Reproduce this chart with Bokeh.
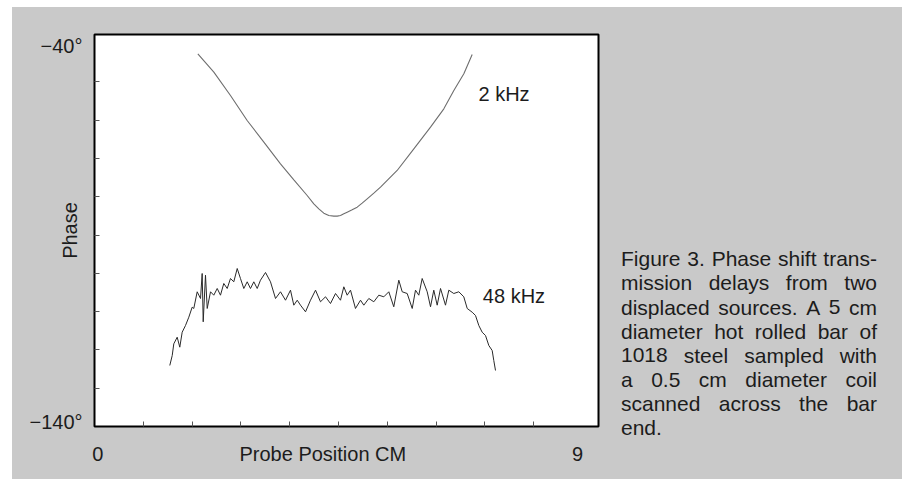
from bokeh.plotting import figure
from bokeh.models import Range1d, FixedTicker, Label, ColumnDataSource
from bokeh.layouts import row
from bokeh.core.properties import value
from bokeh.embed import file_html
from bokeh.resources import INLINE

# ---------------- data ----------------
khz2_pos = [2.118, 2.446, 2.787, 3.129, 3.471, 3.812, 4.086, 4.359, 4.495, 4.598,
            4.700, 4.803, 4.905, 4.974, 5.042, 5.110, 5.179, 5.281, 5.384, 5.486,
            5.589, 5.725, 5.862, 6.203, 6.545, 6.887, 7.160, 7.365, 7.570, 7.741]
khz2_phase = [-42.65, -47.44, -53.53, -60.06, -65.72, -71.38, -75.56, -79.66, -81.83, -83.14,
              -84.27, -84.88, -85.05, -85.05, -84.88, -84.44, -84.01, -83.40, -82.70, -81.66,
              -80.53, -79.05, -77.48, -73.12, -67.46, -61.80, -57.01, -52.23, -47.87, -42.82]

khz48_pos = [1.543, 1.593, 1.625, 1.695, 1.748, 1.797, 1.865, 1.933, 2.002, 2.035,
             2.105, 2.173, 2.207, 2.228, 2.275, 2.310, 2.378, 2.445, 2.515, 2.582,
             2.650, 2.720, 2.787, 2.855, 2.925, 2.992, 3.060, 3.130, 3.197, 3.265,
             3.335, 3.402, 3.505, 3.607, 3.710, 3.812, 3.915, 4.017, 4.085, 4.155,
             4.222, 4.325, 4.427, 4.530, 4.632, 4.735, 4.837, 4.940, 5.042, 5.110,
             5.179, 5.247, 5.349, 5.452, 5.520, 5.622, 5.725, 5.827, 5.930, 6.032,
             6.134, 6.237, 6.307, 6.409, 6.512, 6.579, 6.647, 6.716, 6.819, 6.887,
             6.954, 7.024, 7.092, 7.194, 7.262, 7.364, 7.467, 7.569, 7.639, 7.741,
             7.809, 7.877, 7.946, 8.014, 8.082, 8.151, 8.184, 8.219]
khz48_phase = [-124.06, -121.45, -118.40, -116.67, -119.28, -115.37, -113.62, -111.45, -108.83, -109.17,
               -104.81, -106.56, -100.03, -112.65, -100.48, -109.17, -104.81, -105.70, -103.95, -105.70,
               -102.64, -103.95, -101.34, -102.20, -98.73, -101.34, -103.95, -102.20, -103.95, -102.20,
               -103.95, -101.78, -99.77, -102.20, -106.56, -104.81, -107.01, -104.39, -108.31, -107.01,
               -108.31, -110.04, -107.01, -104.39, -107.42, -106.12, -107.87, -105.26, -107.01, -103.51,
               -105.70, -104.39, -109.17, -107.01, -108.31, -106.56, -107.42, -105.70, -106.12, -104.81,
               -108.73, -101.78, -104.81, -105.26, -109.17, -104.39, -105.70, -101.34, -104.81, -108.73,
               -104.39, -108.31, -103.95, -108.31, -104.39, -105.26, -104.81, -106.12, -109.17, -110.14,
               -111.00, -113.62, -115.37, -116.23, -118.84, -120.15, -122.76, -125.37]

x_label_ticks = [0.07, 4.68, 9.9]
x_label_texts = ["0", "Probe Position CM", "9"]
x_minor_ticks = [1, 2, 3, 4, 5, 6, 7, 8, 9]
y_label_ticks = [-138.9, -40.7]
y_label_texts = ["\u2212140\u00b0", "\u221240\u00b0"]
y_minor_ticks = [-130, -120, -110, -100, -90, -80, -70, -60, -50]

y_title = "Phase"
series_names = ["2 kHz", "48 kHz"]
series_label_pos = [(7.87, -53.27), (7.96, -106.04)]

caption_lines = [
    "Figure 3. Phase shift trans-",
    "mission delays from two",
    "displaced sources. A 5 cm",
    "diameter hot rolled bar of",
    "1018 steel sampled with",
    "a 0.5 cm diameter coil",
    "scanned across the bar",
    "end.",
]

# ---------------- layout / style ----------------
FONT = "Liberation Sans"
BG = "#c9c9c9"
TXT = "#1c1c1c"
H = 472
W1 = 594
W2 = 296

p = figure(width=W1, height=H, output_backend="svg", toolbar_location=None,
           x_range=Range1d(0.0, 10.33), y_range=Range1d(-140.0, -37.6),
           min_border_left=82, min_border_right=8, min_border_top=27, min_border_bottom=53)
p.border_fill_color = BG
p.background_fill_color = "white"
p.outline_line_color = "black"
p.outline_line_width = 2
p.grid.grid_line_color = None

p.xaxis.ticker = FixedTicker(ticks=x_label_ticks, minor_ticks=x_minor_ticks)
p.xaxis.major_label_overrides = dict(zip(x_label_ticks, x_label_texts))
p.yaxis.ticker = FixedTicker(ticks=y_label_ticks, minor_ticks=y_minor_ticks)
p.yaxis.major_label_overrides = dict(zip(y_label_ticks, y_label_texts))
for ax in (p.xaxis, p.yaxis):
    ax.axis_line_color = None
    ax.major_tick_line_color = None
    ax.major_tick_in = 0
    ax.major_tick_out = 0
    ax.minor_tick_in = 5
    ax.minor_tick_out = 0
    ax.minor_tick_line_color = "#555555"
    ax.minor_tick_line_width = 1
    ax.major_label_text_font = FONT
    ax.major_label_text_font_size = "20px"
    ax.major_label_text_color = TXT
p.xaxis.major_label_standoff = 16
p.yaxis.major_label_standoff = 12
p.yaxis.axis_label = y_title
p.yaxis.axis_label_text_font = FONT
p.yaxis.axis_label_text_font_size = "20px"
p.yaxis.axis_label_text_font_style = "normal"
p.yaxis.axis_label_text_color = TXT
p.yaxis.axis_label_standoff = -55

p.line(khz2_pos, khz2_phase, line_color="#6e6e6e", line_width=1.1)
p.line(khz48_pos, khz48_phase, line_color="#2a2a2a", line_width=1)

for name, (lx, ly) in zip(series_names, series_label_pos):
    p.add_layout(Label(x=lx, y=ly, text=name, text_font=FONT, text_font_size="20px",
                       text_color=TXT, text_align="left", text_baseline="alphabetic"))

# ---------------- caption panel (justified text) ----------------
CW = {' ': 278, '.': 278, '-': 333, 'A': 667, 'F': 611, 'P': 667,
      'a': 556, 'b': 556, 'c': 500, 'd': 556, 'e': 556, 'f': 278, 'g': 556, 'h': 556,
      'i': 222, 'j': 222, 'k': 500, 'l': 222, 'm': 833, 'n': 556, 'o': 556, 'p': 556,
      'q': 556, 'r': 333, 's': 500, 't': 278, 'u': 556, 'v': 500, 'w': 722, 'x': 500,
      'y': 500, 'z': 500}
CAP_SIZE = 21
def tw(s):
    return sum(CW.get(c, 556) for c in s) * CAP_SIZE / 1000.0

# caption panel uses page-pixel coordinates (its frame starts level with the main plot frame)
CAP_LEFT, CAP_WIDTH, CAP_TOP, CAP_STEP = 620.5, 256.0, 258.3, 24.14
wx, wy, wt = [], [], []
for i, line in enumerate(caption_lines):
    words = line.split(" ")
    yb = CAP_TOP + i * CAP_STEP
    if i == len(caption_lines) - 1 or len(words) == 1:
        gap = tw(" ")
    else:
        gap = (CAP_WIDTH - sum(tw(w) for w in words)) / (len(words) - 1)
    cx = CAP_LEFT
    for w in words:
        wx.append(cx)
        wy.append(yb)
        wt.append(w)
        cx += tw(w) + gap

p2 = figure(frame_width=W2, frame_height=H, output_backend="svg", toolbar_location=None,
            x_range=Range1d(606, 902), y_range=Range1d(34 + H, 34),
            x_axis_location=None, y_axis_location=None, min_border=0)
p2.border_fill_color = BG
p2.background_fill_color = BG
p2.background_fill_alpha = 0
p2.outline_line_color = None
p2.grid.grid_line_color = None
p2.text(x="x", y="y", text="text", source=ColumnDataSource(dict(x=wx, y=wy, text=wt)),
        text_font=value(FONT), text_font_size="%dpx" % CAP_SIZE, text_color=TXT,
        text_align="left", text_baseline="alphabetic")

layout = row(p, p2, margin=(7, 0, 0, 12), styles={"background-color": BG})
open("out.html", "w").write(file_html(layout, INLINE))
